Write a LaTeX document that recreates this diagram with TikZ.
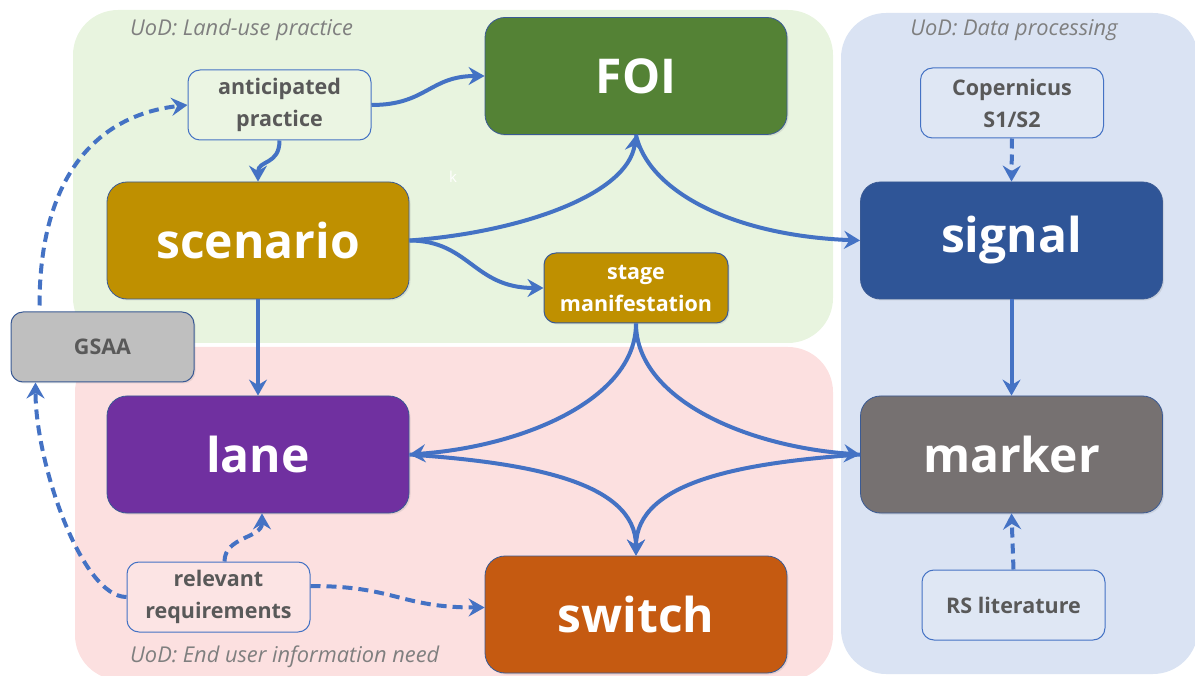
\documentclass[tikz,border=0pt]{standalone}
\usepackage{fontspec}
\setmainfont{Open Sans}
\usetikzlibrary{arrows.meta,calc,shadows}

\definecolor{lineblue}{HTML}{4472C4}
\definecolor{boxedge}{HTML}{3A5A94}
\definecolor{regiongreen}{HTML}{E8F4DF}
\definecolor{regionpink}{HTML}{FCE0E0}
\definecolor{regionblue}{HTML}{DAE3F3}
\definecolor{foigreen}{HTML}{548235}
\definecolor{gold}{HTML}{BF9000}
\definecolor{signalblue}{HTML}{2F5597}
\definecolor{markergray}{HTML}{767171}
\definecolor{lanepurple}{HTML}{7030A0}
\definecolor{switchorange}{HTML}{C55A11}
\definecolor{gsaagray}{HTML}{BFBFBF}
\definecolor{textgray}{HTML}{595959}
\definecolor{labelgray}{HTML}{7F7F7F}

\begin{document}
\begin{tikzpicture}[x=1pt,y=-1pt,
  region/.style={draw=none,rounded corners=45pt},
  uod/.style={text=labelgray,inner sep=0pt,font=\fontsize{21.8}{26}\selectfont\itshape},
  bigbox/.style={draw=boxedge,line width=0.8pt,rounded corners=20pt,
    minimum width=302pt,minimum height=117pt,inner sep=0pt,text=white,
    font=\fontsize{48}{52}\selectfont\bfseries,
    drop shadow={opacity=0.18,shadow xshift=1.5pt,shadow yshift=-1.5pt}},
  smallbox/.style={draw=lineblue,line width=1pt,rounded corners=12pt,
    minimum width=183pt,minimum height=70pt,inner sep=0pt,align=center,
    text=textgray,fill=white,fill opacity=0.15,text opacity=1,
    font=\fontsize{21.5}{32}\selectfont\bfseries},
  conn/.style={draw=lineblue,line width=4pt,
    -{Stealth[length=16pt,width=18pt,inset=5.5pt]}},
  dconn/.style={conn,dash pattern=on 10pt off 6pt}
]
\useasboundingbox (0,0) rectangle (1195,676);

% universes of discourse
\fill[region,regiongreen] (73,10) rectangle (833,343);
\fill[region,regionpink] (75,347) rectangle (833,680);
\fill[region,regionblue] (841,13) rectangle (1198,674);

\node[uod,anchor=west] (uodland) at (130,30) {UoD: Land-use practice};
\node[uod] (uoddata) at (1014,30) {UoD: Data processing};
\node[uod,anchor=west] (uoduser) at (130,657) {UoD: End user information need};

% main concepts
\node[bigbox,fill=foigreen] (foi) at (636,76) {FOI};
\node[bigbox,fill=gold] (scenario) at (258,240.5) {scenario};
\node[bigbox,fill=signalblue] (signal) at (1011.5,240.5) {signal};
\node[bigbox,fill=lanepurple] (lane) at (258,454.5) {lane};
\node[bigbox,fill=markergray] (marker) at (1011.5,454.5) {marker};
\node[bigbox,fill=switchorange] (switch) at (636,614.5) {switch};

% secondary concepts and sources
\node[smallbox] (anticipated) at (279.5,105) {anticipated\\practice};
\node[smallbox,draw=boxedge,fill=gold,fill opacity=1,text=white,
  minimum width=184pt,
  drop shadow={opacity=0.18,shadow xshift=1.5pt,shadow yshift=-1.5pt}]
  (stage) at (636,288) {stage\\manifestation};
\node[smallbox] (copernicus) at (1012,103) {Copernicus\\S1/S2};
\node[smallbox] (rslit) at (1013.5,605) {RS literature};
\node[smallbox] (relevant) at (218.5,597) {relevant\\requirements};
\node[smallbox,draw=boxedge,fill=gsaagray,fill opacity=1,
  drop shadow={opacity=0.18,shadow xshift=1.5pt,shadow yshift=-1.5pt}]
  (gsaa) at (102.5,347) {GSAA};

\node[text=white,inner sep=0pt,font=\fontsize{15}{15}\selectfont] (kmark) at (453,177) {k};

% solid relations
\draw[conn] (anticipated.east) .. controls +(55,0) and +(-55,0) .. (foi.west);
\draw[conn] (anticipated.south) .. controls +(0,25) and +(0,-22) .. (scenario.north);
\draw[conn] (scenario.east) .. controls +(110,-8) and +(-8,60) .. (foi.south);
\draw[conn] (foi.south) .. controls +(12,55) and +(-130,-5) .. (signal.west);
\draw[conn] (scenario.east) .. controls +(60,0) and +(-70,0) .. (stage.west);
\draw[conn] (stage.south) .. controls +(0,75) and +(115,-8) .. (lane.east);
\draw[conn] (stage.south) .. controls +(0,75) and +(-115,-8) .. (marker.west);
\draw[conn] (lane.east) .. controls +(115,8) and +(0,-75) .. (switch.north);
\draw[conn] (marker.west) .. controls +(-115,8) and +(0,-75) .. (switch.north);
\draw[conn] (scenario.south) -- (lane.north);
\draw[conn] (signal.south) -- (marker.north);

% dashed relations
\draw[dconn] (copernicus.south) -- (signal.north);
\draw[dconn] (rslit.north) -- (marker.south);
\draw[dconn] ($(relevant.north)+(6,0)$) .. controls +(0,-25) and +(0,25) .. ($(lane.south)+(4,0)$);
\draw[dconn] ($(relevant.east)+(0,-11)$) .. controls +(85,0) and +(-85,0) .. ($(switch.west)+(0,-7)$);
\draw[dconn] (relevant.west) .. controls +(-45,0) and +(0,80) .. ($(gsaa.south west)+(25,0)$);
\draw[dconn] ($(gsaa.north west)+(29,-6)$) .. controls +(0,-130) and +(-90,10) .. (anticipated.west);
\end{tikzpicture}
\end{document}
